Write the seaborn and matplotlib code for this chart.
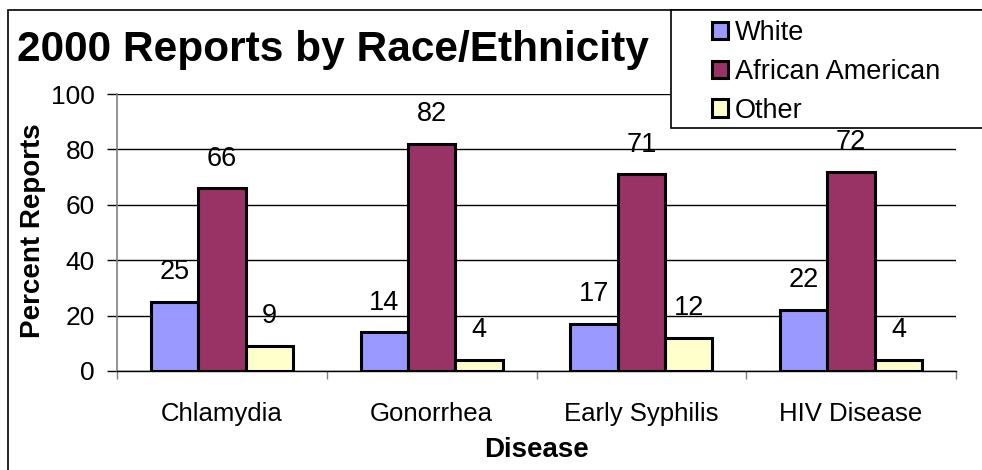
import matplotlib
matplotlib.use("Agg")
import matplotlib.pyplot as plt
import matplotlib.patches as mpatches
import seaborn as sns
import pandas as pd

diseases = ["Chlamydia", "Gonorrhea", "Early Syphilis", "HIV Disease"]
races = ["White", "African American", "Other"]
white = [25, 14, 17, 22]
african_american = [66, 82, 71, 72]
other = [9, 4, 12, 4]
colors = ["#9999FF", "#993366", "#FFFFCC"]
yticks = [0, 20, 40, 60, 80, 100]

rows = []
for race, vals in zip(races, [white, african_american, other]):
    for d, v in zip(diseases, vals):
        rows.append({"Disease": d, "Race": race, "Percent": v})
df = pd.DataFrame(rows)

sns.set_theme(style="white")
plt.rcParams["font.family"] = ["Liberation Sans", "DejaVu Sans"]
plt.rcParams["text.color"] = "black"
plt.rcParams["axes.labelcolor"] = "black"
plt.rcParams["xtick.color"] = "black"
plt.rcParams["ytick.color"] = "black"

W, H = 982, 470
fig = plt.figure(figsize=(W / 100, H / 100), dpi=100)
ax = fig.add_axes([117 / W, 1 - 371 / H, (956 - 117) / W, (371 - 94) / H])

sns.barplot(data=df, x="Disease", y="Percent", hue="Race", order=diseases,
            hue_order=races, palette=colors, saturation=1, width=0.676,
            edgecolor="black", linewidth=2.2, ax=ax, legend=False, zorder=3)

ax.set_ylim(0, 100)
ax.set_xlim(-0.5, 3.5)
ax.set_yticks(yticks)
ax.yaxis.grid(True, color="black", linewidth=1, zorder=0)
ax.set_axisbelow(True)
for s in ["top", "right"]:
    ax.spines[s].set_visible(False)
ax.spines["left"].set_color("#808080")
ax.spines["left"].set_linewidth(1.2)
ax.spines["bottom"].set_color("black")
ax.spines["bottom"].set_linewidth(1)

ax.tick_params(axis="y", which="major", length=7, width=1, color="black",
               direction="out", labelsize=19, pad=9, left=True, labelcolor="black")
ax.tick_params(axis="x", which="major", length=0, labelsize=18.5, pad=22,
               labelcolor="black")
ax.set_xticks([-0.5, 0.5, 1.5, 2.5, 3.5], minor=True)
ax.tick_params(axis="x", which="minor", length=6, width=1, color="#808080",
               direction="out", bottom=True)
ax.set_xlabel("")
ax.set_ylabel("")

for cont in ax.containers:
    ax.bar_label(cont, labels=[f"{int(v)}" for v in cont.datavalues],
                 padding=12, fontsize=19.5, color="black")

fig.text(17 / W, 1 - 61 / H, "2000 Reports by Race/Ethnicity", fontsize=30.5,
         fontweight="bold", ha="left", va="baseline", color="black")
fig.text(33 / W, 1 - 231 / H, "Percent Reports", fontsize=20,
         fontweight="bold", rotation=90, ha="center", va="center", color="black")
fig.text(536 / W, 1 - 457 / H, "Disease", fontsize=20, fontweight="bold",
         ha="center", va="baseline", color="black")

# legend box
legbox = mpatches.Rectangle((671 / W, 1 - 128 / H), 0.5, (128 - 10) / H,
                            transform=fig.transFigure, facecolor="white",
                            edgecolor="black", linewidth=1.2, clip_on=False,
                            zorder=5)
fig.patches.append(legbox)

handles = [mpatches.Patch(facecolor=c, edgecolor="black", linewidth=2.2) for c in colors]
leg = fig.legend(handles, races, loc="upper left",
                 bbox_to_anchor=(704 / W, 1 - 12 / H),
                 fontsize=19.5, frameon=False, borderaxespad=0,
                 handlelength=0.6, handleheight=0.6, handletextpad=0.25,
                 labelspacing=0.47, borderpad=0.3)
leg.set_zorder(6)
for t in leg.get_texts():
    t.set_color("black")

border = mpatches.Rectangle((8 / W, -0.1), 1.2, 1.1 - 10 / H,
                            transform=fig.transFigure, fill=False,
                            edgecolor="black", linewidth=1.2, clip_on=False)
fig.patches.append(border)

fig.savefig("out.png", dpi=100)
